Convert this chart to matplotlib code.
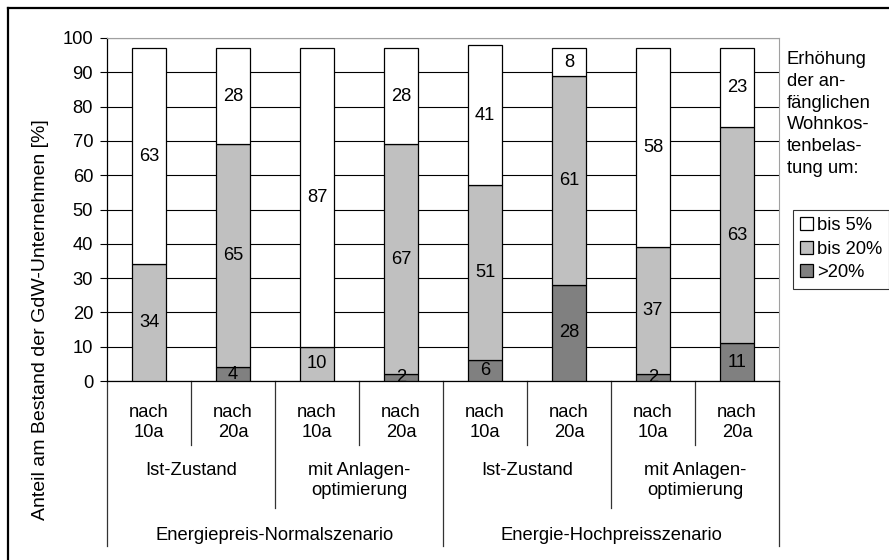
import numpy as np
import matplotlib.pyplot as plt
from matplotlib.lines import Line2D

plt.rcParams['font.family'] = ['Liberation Sans', 'DejaVu Sans']

# data
periods = ['nach\n10a', 'nach\n20a'] * 4
variants = ['Ist-Zustand', 'mit Anlagen-\noptimierung'] * 2
scenarios = ['Energiepreis-Normalszenario', 'Energie-Hochpreisszenario']
over_20 = [0, 4, 0, 2, 6, 28, 2, 11]
upto_20 = [34, 65, 10, 67, 51, 61, 37, 63]
upto_5 = [63, 28, 87, 28, 41, 8, 58, 23]
legend_title = 'Erhöhung\nder an-\nfänglichen\nWohnkos-\ntenbelas-\ntung um:'
y_label = 'Anteil am Bestand der GdW-Unternehmen [%]'

fs = 13.2

fig = plt.figure(figsize=(8.89, 5.6), dpi=100)
ax = fig.add_axes([107 / 889, 1 - 381 / 560, 672 / 889, 343 / 560])

x = np.arange(len(periods))
w = 0.4
series = [(over_20, '#808080', '>20%'), (upto_20, '#C0C0C0', 'bis 20%'), (upto_5, 'white', 'bis 5%')]
bottom = np.zeros(len(x))
handles = []
for vals, col, name in series:
    vals = np.array(vals)
    bars = ax.bar(x, vals, w, bottom=bottom, color=col, edgecolor='black', linewidth=0.9, zorder=3, label=name)
    ax.bar_label(bars, labels=[str(v) if v > 0 else '' for v in vals], label_type='center', fontsize=fs, zorder=4)
    bottom += vals
    handles.append(bars)

ax.set_xlim(-0.5, 7.5)
ax.set_ylim(0, 100)
ax.set_yticks(range(0, 101, 10))
ax.tick_params(axis='y', labelsize=fs, length=5, width=0.8, pad=5)
ax.set_xticks([])
ax.yaxis.grid(True, color='black', linewidth=0.8, zorder=0)
ax.set_axisbelow(True)
for s in ['top', 'right']:
    ax.spines[s].set_color('#A0A0A0')
ax.spines['left'].set_linewidth(0.9)
ax.spines['bottom'].set_linewidth(0.9)

# hierarchical category axis below the plot
tr = ax.get_xaxis_transform()
row1, row2, row3 = -0.1866, -0.370, -0.481
for b in np.arange(-0.5, 8.0, 1.0):
    if b in (-0.5, 3.5, 7.5):
        end = row3
    elif b in (1.5, 5.5):
        end = row2
    else:
        end = row1
    ax.add_line(Line2D([b, b], [0, end], transform=tr, color='#333333', linewidth=0.9, clip_on=False))

for i, lab in enumerate(periods):
    ax.text(i, -0.121, lab, transform=tr, ha='center', va='center', fontsize=fs)
for j, lab in enumerate(variants):
    ax.text(2 * j + 0.5, -0.236, lab, transform=tr, ha='center', va='top', fontsize=fs)
for k, lab in enumerate(scenarios):
    ax.text(4 * k + 1.5, -0.449, lab, transform=tr, ha='center', va='center', fontsize=fs)

fig.text(41 / 889, 1 - 320 / 560, y_label, rotation=90, ha='center', va='center', fontsize=14)
fig.text(787 / 889, 1 - 51 / 560, legend_title, ha='left', va='top', fontsize=fs, linespacing=1.37)

leg = fig.legend(handles[::-1], [h.get_label() for h in handles[::-1]], loc='upper left',
                 bbox_to_anchor=(793 / 889, 1 - 210 / 560), fontsize=fs, frameon=True, fancybox=False,
                 edgecolor='black', borderaxespad=0, borderpad=0.4, handlelength=0.7, handleheight=0.7,
                 handletextpad=0.2, labelspacing=0.35)
leg.get_frame().set_linewidth(0.8)

# outer frame of the picture
fig.add_artist(Line2D([8 / 889, 8 / 889], [0, 1 - 8 / 560], transform=fig.transFigure, color='black', linewidth=1.6))
fig.add_artist(Line2D([8 / 889, 1], [1 - 8 / 560, 1 - 8 / 560], transform=fig.transFigure, color='black', linewidth=1.6))

fig.savefig('out.png', dpi=100)
